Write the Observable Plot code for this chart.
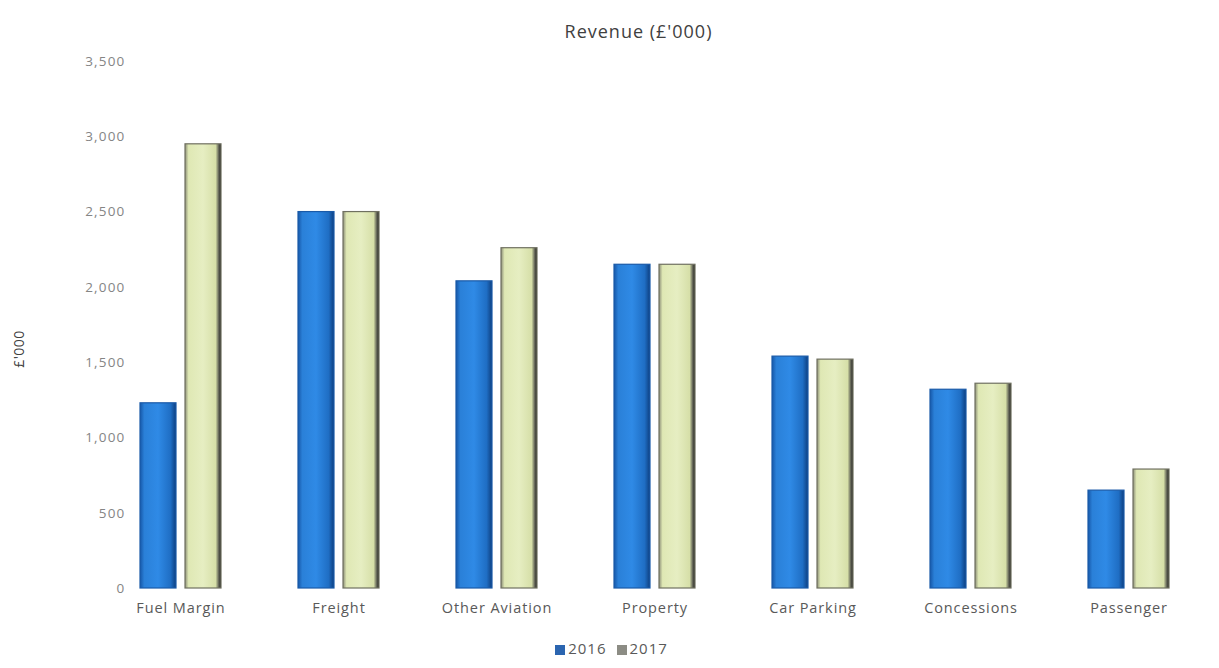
<!DOCTYPE html>
<html>
<head>
<meta charset="utf-8">
<script src="https://cdn.jsdelivr.net/npm/d3@7"></script>
<script src="https://cdn.jsdelivr.net/npm/@observablehq/plot@0.6"></script>
<style>
  html, body { margin: 0; padding: 0; background: #ffffff; }
  body { width: 1219px; height: 668px; overflow: hidden; font-family: "Open Sans", sans-serif; }
  #title { height: 50px; line-height: 62px; text-align: center; font-size: 18px; color: #404040; letter-spacing: 1px; padding-left: 58px; }
  #legend { height: 40px; display: flex; justify-content: center; align-items: center; font-size: 15px; color: #595959; gap: 10px; padding-left: 4px; letter-spacing: 1px; }
  .sw { display: inline-block; width: 10px; height: 10px; margin-right: 3px; vertical-align: -1px; }
  .ytick text { letter-spacing: 1.2px; }
  .fxtick text { letter-spacing: 0.9px; }
</style>
</head>
<body>
<div id="title">Revenue (£'000)</div>
<div id="chart"></div>
<div id="legend"></div>
<script>
const categories = ["Fuel Margin", "Freight", "Other Aviation", "Property", "Car Parking", "Concessions", "Passenger"];
const years = ["2016", "2017"];
const values2016 = [1230, 2500, 2040, 2150, 1540, 1320, 650];
const values2017 = [2950, 2500, 2260, 2150, 1520, 1360, 790];
const yTicks = [0, 500, 1000, 1500, 2000, 2500, 3000, 3500];
const colors = {"2016": "url(#g2016)", "2017": "url(#g2017)"};
const strokes = {"2016": "#1a5aa8", "2017": "#6f7060"};

const data = [];
categories.forEach((c, i) => {
  data.push({category: c, year: "2016", value: values2016[i]});
  data.push({category: c, year: "2017", value: values2017[i]});
});

const chart = Plot.plot({
  width: 1219,
  height: 578,
  marginLeft: 100,
  marginRight: 10,
  marginTop: 11,
  marginBottom: 40,
  style: {fontFamily: "'Open Sans', sans-serif", background: "transparent"},
  fx: {domain: categories, paddingInner: 0.49, paddingOuter: 0.245, label: null},
  x: {domain: years, paddingInner: 0.2, paddingOuter: 0, axis: null},
  y: {domain: [0, 3500], label: null},
  marks: [
    Plot.barY(data, {fx: "category", x: "year", y: "value",
      fill: d => colors[d.year], stroke: d => strokes[d.year], strokeWidth: 1.2}),
    Plot.axisY({ticks: yTicks, tickSize: 0, tickPadding: 15, tickFormat: d3.format(","),
      fontSize: 13.5, color: "#858585", className: "ytick",
      label: "£'000", labelAnchor: "center", labelArrow: "none", labelOffset: 126}),
    Plot.axisFx({anchor: "bottom", tickSize: 0, tickPadding: 14, fontSize: 14.5, color: "#595959", label: null, className: "fxtick"})
  ]
});

// gradients
const defs = d3.select(chart).insert("defs", ":first-child");
const g1 = defs.append("linearGradient").attr("id", "g2016").attr("x1", 0).attr("x2", 1).attr("y1", 0).attr("y2", 0);
[[0, "#1657a8"], [0.12, "#2a80d8"], [0.5, "#2f8ae6"], [0.85, "#1f6ec4"], [1, "#0e3f80"]].forEach(([o, c]) =>
  g1.append("stop").attr("offset", o).attr("stop-color", c));
const g2 = defs.append("linearGradient").attr("id", "g2017").attr("x1", 0).attr("x2", 1).attr("y1", 0).attr("y2", 0);
[[0, "#8d8f78"], [0.1, "#dfe8b4"], [0.5, "#e6eec2"], [0.85, "#d6dfa8"], [0.93, "#6a6c5c"], [1, "#1e1e1e"]].forEach(([o, c]) =>
  g2.append("stop").attr("offset", o).attr("stop-color", c));

const yl = d3.select(chart).selectAll("[aria-label='y-axis label']");
yl.attr("fill", "#404040").style("font-size", "14px").style("letter-spacing", "0.5px");
yl.selectAll("text").attr("dx", -24);

document.getElementById("chart").appendChild(chart);

const legend = document.getElementById("legend");
[["2016", "#2b65b0"], ["2017", "#8c8c84"]].forEach(([y, c]) => {
  const s = document.createElement("span");
  s.innerHTML = `<span class="sw" style="background:${c}"></span>${y}`;
  legend.appendChild(s);
});
</script>
</body>
</html>
